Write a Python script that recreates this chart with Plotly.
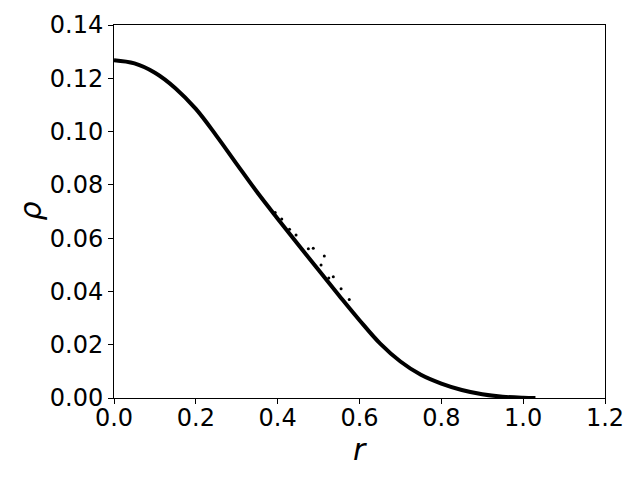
import plotly.graph_objects as go

# curve (centre of the dense band of points)
r_curve = [0.00, 0.05, 0.10, 0.15, 0.20, 0.25, 0.30, 0.35, 0.40, 0.45, 0.50,
           0.55, 0.60, 0.65, 0.70, 0.75, 0.80, 0.85, 0.90, 0.95, 1.00, 1.03]
rho_curve = [0.1268, 0.1256, 0.1221, 0.1163, 0.1085, 0.0985, 0.0878, 0.0772,
             0.0673, 0.0576, 0.0480, 0.0385, 0.0292, 0.0205, 0.0137, 0.0087,
             0.0054, 0.0030, 0.0014, 0.0005, 0.0001, 0.0000]

# scattered points above the band
r_scatter = [0.394, 0.429, 0.487, 0.514, 0.506, 0.536, 0.445, 0.475, 0.525, 0.555, 0.575, 0.410]
rho_scatter = [0.0696, 0.0633, 0.0562, 0.0533, 0.0499, 0.0455, 0.0612, 0.0560, 0.0450, 0.0410, 0.0370, 0.0672]

x_ticks = [0.0, 0.2, 0.4, 0.6, 0.8, 1.0, 1.2]
y_ticks = [0.00, 0.02, 0.04, 0.06, 0.08, 0.10, 0.12, 0.14]

fig = go.Figure()
fig.add_trace(go.Scatter(x=r_curve, y=rho_curve, mode="lines",
                         line=dict(color="black", width=4, shape="spline", smoothing=1),
                         showlegend=False, hoverinfo="skip"))
fig.add_trace(go.Scatter(x=r_scatter, y=rho_scatter, mode="markers",
                         marker=dict(color="black", size=3),
                         showlegend=False))

font = "DejaVu Sans"
# page body adds an 8px margin, so the figure is 8px smaller on each side
fig.update_layout(
    width=632, height=472,
    margin=dict(l=106, r=35, t=17, b=82),
    paper_bgcolor="white", plot_bgcolor="white",
    font=dict(family=font, size=24, color="black"),
    annotations=[
        dict(text="<i>r</i>", xref="paper", yref="paper", x=0.5, y=0,
             xanchor="center", yanchor="middle", yshift=-51, showarrow=False,
             font=dict(family=font, size=30)),
        dict(text="<i>ρ</i>", xref="paper", yref="paper", x=0, y=0.5,
             xanchor="center", yanchor="middle", xshift=-84, showarrow=False,
             textangle=-90, font=dict(family=font, size=30)),
    ],
)
fig.update_xaxes(
    range=[0, 1.2], tickvals=x_ticks, ticktext=[f"{v:.1f}" for v in x_ticks],
    ticks="outside", ticklen=5, tickwidth=1, tickcolor="black",
    showline=True, linecolor="black", linewidth=1, mirror=True,
    showgrid=False, zeroline=False, automargin=False,
    ticklabelstandoff=-7,
    tickfont=dict(family=font, size=24),
)
fig.update_yaxes(
    range=[0, 0.14], tickvals=y_ticks, ticktext=[f"{v:.2f}" for v in y_ticks],
    ticks="outside", ticklen=5, tickwidth=1, tickcolor="black",
    showline=True, linecolor="black", linewidth=1, mirror=True,
    showgrid=False, zeroline=False, automargin=False,
    tickfont=dict(family=font, size=24),
)
fig.write_html("out.html")
